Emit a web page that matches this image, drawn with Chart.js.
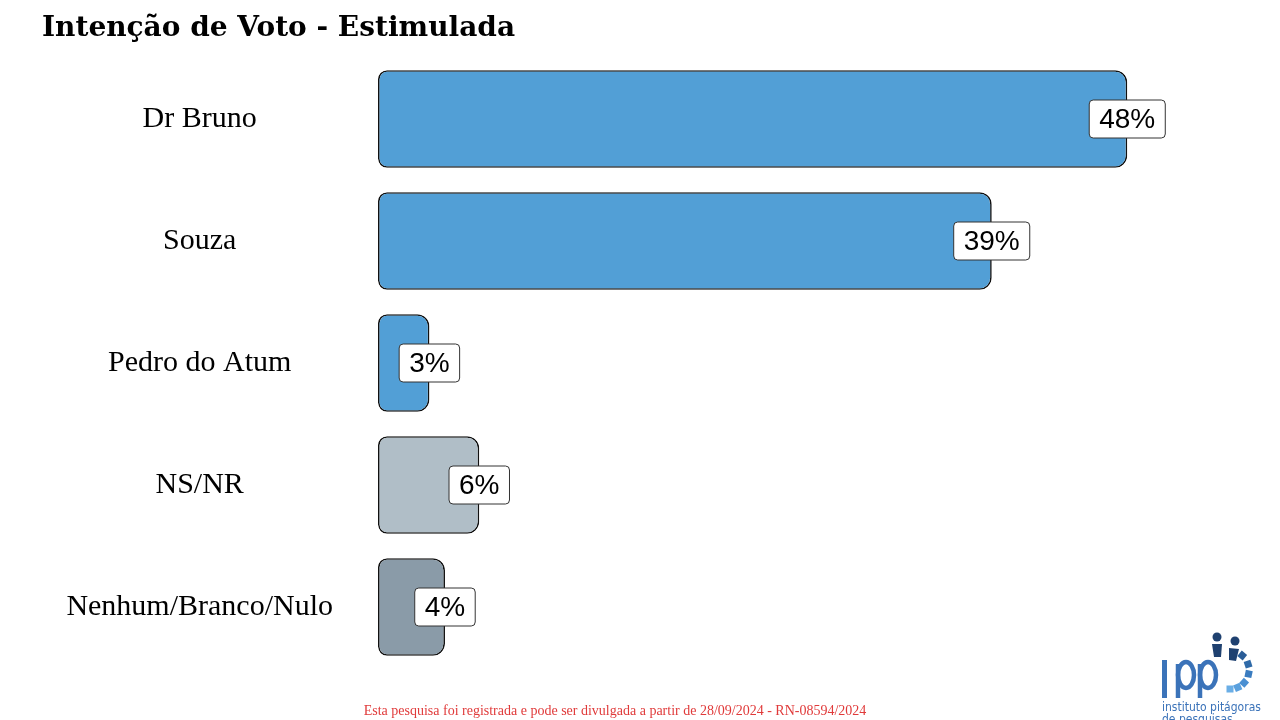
<!DOCTYPE html>
<html>
<head>
<meta charset="utf-8">
<script src="https://cdn.jsdelivr.net/npm/chart.js@4.4.1/dist/chart.umd.min.js"></script>
<style>
  html, body { margin: 0; padding: 0; background: #ffffff; }
  #wrap { width: 1280px; height: 720px; position: relative; }
</style>
</head>
<body>
<div id="wrap"><canvas id="c" width="1280" height="720"></canvas></div>
<script>
const titleText = 'Intenção de Voto - Estimulada';
const footerText = 'Esta pesquisa foi registrada e pode ser divulgada a partir de 28/09/2024 - RN-08594/2024';
const categories = ['Dr Bruno', 'Souza', 'Pedro do Atum', 'NS/NR', 'Nenhum/Branco/Nulo'];
const voteShare = [48.1, 39.4, 3.3, 6.5, 4.3];
const valueLabels = ['48%', '39%', '3%', '6%', '4%'];
const barColors = ['#529fd6', '#529fd6', '#529fd6', '#b0bec7', '#8a9ba8'];

const valueLabelPlugin = {
  id: 'valueLabels',
  afterDatasetsDraw(chart) {
    const ctx = chart.ctx;
    const meta = chart.getDatasetMeta(0);
    ctx.save();
    ctx.font = '28px "Liberation Sans", Arial, sans-serif';
    ctx.textAlign = 'center';
    ctx.textBaseline = 'middle';
    meta.data.forEach((bar, i) => {
      const txt = valueLabels[i];
      const w = ctx.measureText(txt).width + 20;
      const h = 38;
      const x = bar.x - w / 2;
      const y = bar.y - h / 2;
      ctx.beginPath();
      ctx.roundRect(x, y, w, h, 4);
      ctx.fillStyle = '#ffffff';
      ctx.fill();
      ctx.lineWidth = 1;
      ctx.strokeStyle = '#333333';
      ctx.stroke();
      ctx.fillStyle = '#000000';
      ctx.fillText(txt, bar.x, bar.y + 1);
    });
    ctx.restore();
  }
};

const logoPlugin = {
  id: 'logo',
  afterDraw(chart) {
    const ctx = chart.ctx;
    ctx.save();
    const blue = '#3b73b9';
    ctx.fillStyle = blue;
    ctx.strokeStyle = blue;
    // "i"
    ctx.fillRect(1162, 660, 5, 38);
    // two "p"
    ctx.lineWidth = 4.5;
    [1178, 1200].forEach((a) => {
      ctx.beginPath();
      ctx.moveTo(a, 698);
      ctx.lineTo(a, 664);
      ctx.stroke();
      ctx.beginPath();
      ctx.ellipse(a + 8, 675, 8, 13, 0, 0, Math.PI * 2);
      ctx.stroke();
    });
    // people and arc
    ctx.fillStyle = '#1f4170';
    ctx.beginPath(); ctx.arc(1217, 637, 4.5, 0, Math.PI * 2); ctx.fill();
    ctx.beginPath(); ctx.arc(1235, 641, 4.5, 0, Math.PI * 2); ctx.fill();
    ctx.beginPath(); ctx.moveTo(1212, 644); ctx.lineTo(1222, 644); ctx.lineTo(1221, 657); ctx.lineTo(1214, 657); ctx.closePath(); ctx.fill();
    ctx.beginPath(); ctx.moveTo(1229, 648); ctx.lineTo(1239, 649); ctx.lineTo(1236, 661); ctx.lineTo(1229, 660); ctx.closePath(); ctx.fill();
    const cx = 1230, cy = 670, r = 19;
    const dashAngles = [-50, -18, 12, 42, 66, 90];
    const dashColors = ['#2a5d97', '#2f6aa8', '#3a7cc0', '#4a8fd2', '#5aa0de', '#6aaee6'];
    dashAngles.forEach((deg, k) => {
      const ang = deg * Math.PI / 180;
      ctx.fillStyle = dashColors[k];
      ctx.save();
      ctx.translate(cx + r * Math.cos(ang), cy + r * Math.sin(ang));
      ctx.rotate(ang);
      ctx.fillRect(-3.5, -3.5, 7, 7);
      ctx.restore();
    });
    ctx.fillStyle = blue;
    ctx.font = '12px "DejaVu Sans Condensed", "DejaVu Sans", sans-serif';
    ctx.textAlign = 'left';
    ctx.textBaseline = 'alphabetic';
    ctx.fillText('instituto pitágoras', 1162, 711);
    ctx.fillText('de pesquisas', 1162, 723);
    ctx.restore();
  }
};

new Chart(document.getElementById('c'), {
  type: 'bar',
  data: {
    labels: categories,
    datasets: [{
      data: voteShare,
      backgroundColor: barColors,
      borderColor: '#111111',
      borderWidth: 1.6,
      borderSkipped: false,
      borderRadius: { topLeft: 9, bottomLeft: 9, topRight: 12, bottomRight: 12 },
      barPercentage: 0.8,
      categoryPercentage: 1.0
    }]
  },
  options: {
    indexAxis: 'y',
    responsive: false,
    animation: false,
    events: [],
    layout: { padding: { left: 42, right: 92, top: 0, bottom: 0 } },
    scales: {
      x: { display: false, min: 0, max: 52 },
      y: {
        grid: { display: false, drawTicks: false },
        border: { display: false },
        ticks: {
          crossAlign: 'center',
          padding: 45,
          color: '#000000',
          font: { family: '"Liberation Serif", "Times New Roman", serif', size: 30 }
        },
        afterFit(scale) {
          scale.width = 336;
          scale.paddingTop = 0;
          scale.paddingBottom = 0;
        }
      }
    },
    plugins: {
      legend: { display: false },
      tooltip: { enabled: false },
      title: {
        display: true,
        text: titleText,
        align: 'start',
        color: '#000000',
        font: { family: '"DejaVu Serif", serif', size: 28, weight: 'bold' },
        padding: { top: 11.5, bottom: 12.9 }
      },
      subtitle: {
        display: true,
        position: 'bottom',
        text: footerText,
        color: '#e03a3a',
        font: { family: '"Liberation Serif", serif', size: 14 },
        padding: { top: 34.6, bottom: 0.6 }
      }
    }
  },
  plugins: [valueLabelPlugin, logoPlugin]
});
</script>
</body>
</html>
